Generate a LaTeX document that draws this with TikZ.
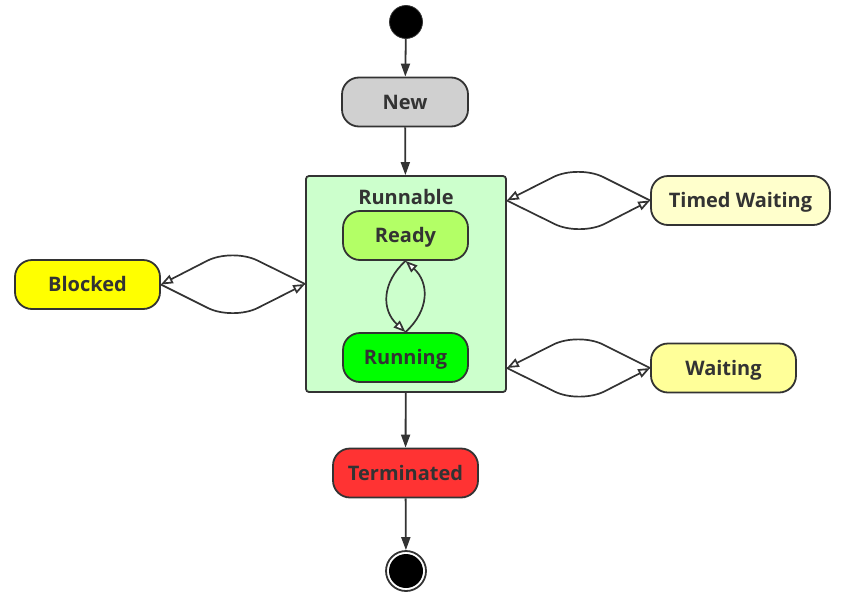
\documentclass[tikz,border=0pt]{standalone}
\usepackage{fontspec}
\setmainfont{Open Sans}
\usetikzlibrary{arrows.meta,calc}
\definecolor{linec}{HTML}{333333}
\definecolor{newfill}{HTML}{D0D0D0}
\definecolor{runfill}{HTML}{CCFFCC}
\definecolor{readyfill}{HTML}{B3FF66}
\definecolor{runningfill}{HTML}{00FF00}
\definecolor{blockfill}{HTML}{FFFF00}
\definecolor{twfill}{HTML}{FFFFCC}
\definecolor{waitfill}{HTML}{FFFF99}
\definecolor{termfill}{HTML}{FF3333}
\tikzset{
  statebox/.style={draw=linec, line width=1.8pt, rounded corners=17pt, minimum height=49pt,
    text=linec, font=\fontsize{20}{22}\selectfont\bfseries, inner sep=0pt,
    text height=14.3pt, text depth=0pt},
  flow/.style={draw=linec, line width=1.8pt, -{Triangle[length=13pt,width=9pt]}},
  curve/.style={draw=linec, line width=1.7pt, rounded corners=28pt,
    -{Triangle[length=12pt,width=9pt,fill=white]}},
  loopc/.style={draw=linec, line width=1.7pt,
    -{Triangle[length=12pt,width=9pt,fill=white]}},
  lbl/.style={text=linec, font=\fontsize{20}{22}\selectfont\bfseries, inner sep=0pt,
    text height=14.3pt, text depth=0pt}
}
\begin{document}
\begin{tikzpicture}[x=1pt,y=-1pt]
\useasboundingbox (0,0) rectangle (845,597);
% start / end
\node[circle, fill=black, draw=linec, line width=0.8pt, minimum size=33pt, inner sep=0pt] (start) at (406,22) {};
\node[circle, draw=linec, line width=1.8pt, fill=white, minimum size=40pt, inner sep=0pt] (endo) at (406,571) {};
\node[circle, fill=black, minimum size=34pt, inner sep=0pt] (endi) at (406,571) {};
% states
\node[statebox, fill=newfill, minimum width=126pt] (new) at (405,102) {New};
\node[draw=linec, line width=1.8pt, fill=runfill, rounded corners=3pt, minimum width=200pt, minimum height=216pt, inner sep=0pt] (runnable) at (406,284) {};
\node[lbl] (rlabel) at (406,197) {Runnable};
\node[statebox, fill=readyfill, minimum width=125pt] (ready) at (405.5,235.5) {Ready};
\node[statebox, fill=runningfill, minimum width=125pt] (running) at (405.5,357.5) {Running};
\node[statebox, fill=blockfill, minimum width=145pt] (blocked) at (87.5,284.5) {Blocked};
\node[statebox, fill=twfill, minimum width=179pt] (tw) at (740.5,200.5) {Timed Waiting};
\node[statebox, fill=waitfill, minimum width=145pt] (waiting) at (723.5,368) {Waiting};
\node[statebox, fill=termfill, minimum width=145pt] (term) at (405.5,473) {Terminated};
% main flow
\draw[flow] (start) -- (new);
\draw[flow] (new) -- (runnable);
\draw[flow] (runnable) -- (term);
\draw[flow] (term) -- (endo);
% ready/running
\draw[loopc] (ready.south) .. controls +(-24,22) and +(-24,-22) .. (running.north);
\draw[loopc] (running.north) .. controls +(24,-22) and +(24,22) .. (ready.south);
% blocked
\draw[curve] (runnable.west) -- ++(-73,-36) -- (blocked.east);
\draw[curve] (blocked.east) -- ++(72,36) -- (runnable.west);
% timed waiting
\coordinate (rtw) at (runnable.east |- tw.west);
\draw[curve] (tw.west) -- ++(-72,-36) -- (rtw);
\draw[curve] (rtw) -- ++(73,36) -- (tw.west);
% waiting
\coordinate (rw) at (runnable.east |- waiting.west);
\draw[curve] (waiting.west) -- ++(-72,-36) -- (rw);
\draw[curve] (rw) -- ++(73,36) -- (waiting.west);
\end{tikzpicture}
\end{document}
